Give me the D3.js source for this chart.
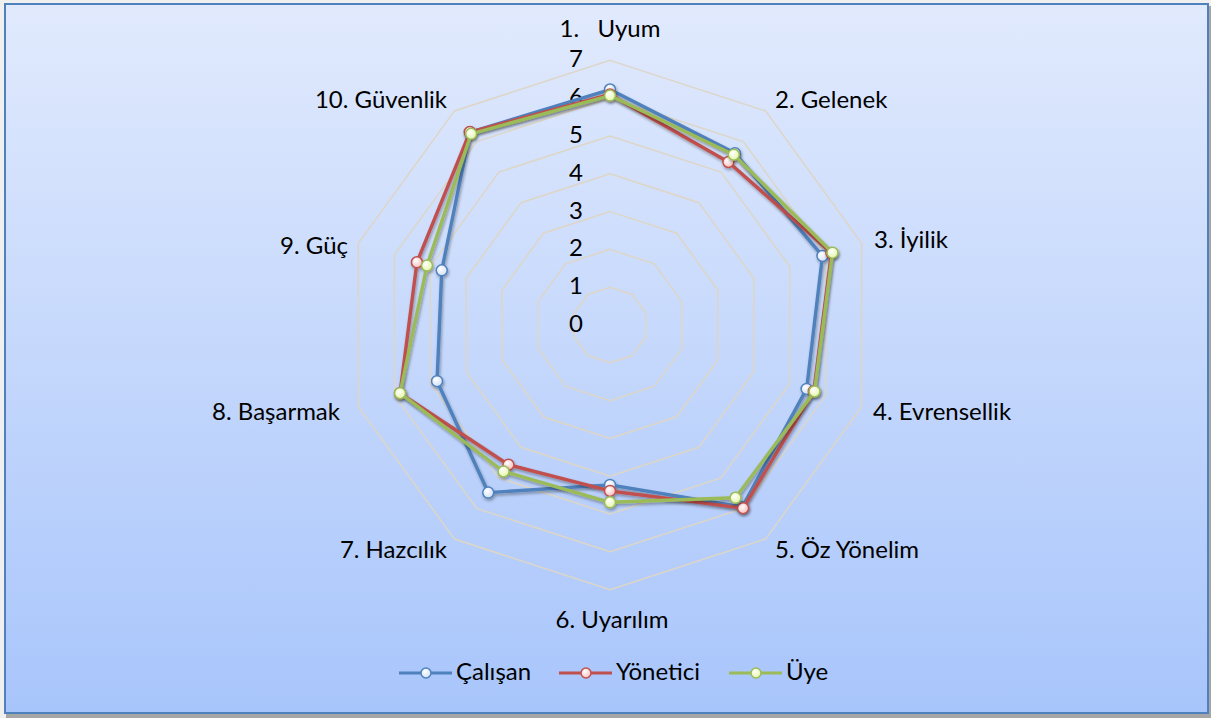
<!DOCTYPE html>
<html>
<head>
<meta charset="utf-8">
<script src="https://cdn.jsdelivr.net/npm/d3@7"></script>
<style>
  body { margin: 0; background: #f0f0f0; }
  svg { display: block; }
  text { font-family: Lato, "Open Sans", sans-serif; fill: #000; }
</style>
</head>
<body>
<svg width="1211" height="718"></svg>
<script>
const axes = ["1.   Uyum", "2. Gelenek", "3. İyilik", "4. Evrensellik", "5. Öz Yönelim",
              "6. Uyarılım", "7. Hazcılık", "8. Başarmak", "9. Güç", "10. Güvenlik"];
const seriesNames = ["Çalışan", "Yönetici", "Üye"];
const calisan  = [6.23, 5.62, 5.91, 5.47, 5.95, 4.23, 5.48, 4.81, 4.68, 6.30];
const yonetici = [6.10, 5.33, 6.16, 5.67, 5.99, 4.39, 4.57, 5.84, 5.37, 6.31];
const uye      = [6.07, 5.57, 6.19, 5.69, 5.65, 4.69, 4.79, 5.84, 5.09, 6.25];
const ticks = [0, 1, 2, 3, 4, 5, 6, 7];

const colors = ["#4f81bd", "#c0504d", "#9bbb59"];
const markerFill = ["#d3e1f5", "#f6c0be", "#e4f6a6"];
const fontSize = 24;

const svg = d3.select("svg");
const cx = 610, cy = 325;
const r = d3.scaleLinear().domain([0, 7]).range([0, 264.6]);
const angle = d3.scaleLinear().domain([0, axes.length]).range([0, 2 * Math.PI]);
const pt = (i, v) => [cx + r(v) * Math.sin(angle(i)), cy - r(v) * Math.cos(angle(i))];

const defs = svg.append("defs");
const bg = defs.append("linearGradient").attr("id", "bg").attr("x1", 0).attr("y1", 0).attr("x2", 0).attr("y2", 1);
bg.append("stop").attr("offset", "0%").attr("stop-color", "#e1eafd");
bg.append("stop").attr("offset", "100%").attr("stop-color", "#a8c5fb");

const sh = defs.append("filter").attr("id", "shadow").attr("x", "-10%").attr("y", "-10%").attr("width", "120%").attr("height", "120%");
sh.append("feDropShadow").attr("dx", 1).attr("dy", 2).attr("stdDeviation", 1.6)
  .attr("flood-color", "#000").attr("flood-opacity", 0.35);

colors.forEach((c, k) => {
  const g = defs.append("radialGradient").attr("id", "mk" + k).attr("cx", "40%").attr("cy", "35%").attr("r", "65%");
  g.append("stop").attr("offset", "0%").attr("stop-color", "#ffffff");
  g.append("stop").attr("offset", "100%").attr("stop-color", markerFill[k]);
});

// shadow strip + frame
svg.append("rect").attr("x", 6).attr("y", 6).attr("width", 1205).attr("height", 712).attr("fill", "#a6a6a6");
svg.append("rect").attr("x", 5).attr("y", 4).attr("width", 1203).attr("height", 709)
  .attr("fill", "url(#bg)").attr("stroke", "#4f81bd").attr("stroke-width", 2);

// grid rings
const ring = d3.line();
svg.append("g").selectAll("path").data(ticks).join("path")
  .attr("d", t => ring(axes.map((a, i) => pt(i, t))) + "Z")
  .attr("fill", "none").attr("stroke", "#ddd6c6").attr("stroke-width", 1.5);

// tick labels
svg.append("g").selectAll("text").data(ticks).join("text")
  .attr("x", 583).attr("y", t => cy - r(t) + 1)
  .attr("text-anchor", "end").attr("dominant-baseline", "middle")
  .attr("font-size", fontSize).text(t => t);

// axis labels
const labelPos = [
  {x: 610, y: 31, a: "middle"}, {x: 775, y: 102, a: "start"}, {x: 874, y: 242, a: "start"},
  {x: 873, y: 414, a: "start"}, {x: 775, y: 552, a: "start"}, {x: 612, y: 622, a: "middle"},
  {x: 447, y: 552, a: "end"}, {x: 340, y: 414, a: "end"}, {x: 348, y: 248, a: "end"},
  {x: 447, y: 102, a: "end"}
];
svg.append("g").selectAll("text").data(axes).join("text")
  .attr("x", (d, i) => labelPos[i].x).attr("y", (d, i) => labelPos[i].y)
  .attr("text-anchor", (d, i) => labelPos[i].a).attr("dominant-baseline", "middle")
  .attr("font-size", fontSize).style("white-space", "pre").text(d => d);

// series
const data = [calisan, yonetici, uye];
const lineGen = d3.line();
data.forEach((vals, k) => {
  const g = svg.append("g").attr("filter", "url(#shadow)");
  const pts = vals.map((v, i) => pt(i, v));
  g.append("path").attr("d", lineGen(pts) + "Z")
    .attr("fill", "none").attr("stroke", colors[k]).attr("stroke-width", 3.4).attr("stroke-linejoin", "round");
  g.selectAll("circle").data(pts).join("circle")
    .attr("cx", d => d[0]).attr("cy", d => d[1]).attr("r", 5.5)
    .attr("fill", `url(#mk${k})`).attr("stroke", colors[k]).attr("stroke-width", 1.5);
});

// legend
const legX = [399, 559, 729];
const lg = svg.append("g");
seriesNames.forEach((n, k) => {
  const x = legX[k], y = 673;
  lg.append("line").attr("x1", x).attr("x2", x + 53).attr("y1", y).attr("y2", y)
    .attr("stroke", colors[k]).attr("stroke-width", 3);
  lg.append("circle").attr("cx", x + 27).attr("cy", y).attr("r", 5)
    .attr("fill", `url(#mk${k})`).attr("stroke", colors[k]).attr("stroke-width", 1.5);
  lg.append("text").attr("x", x + 57).attr("y", y + 1).attr("dominant-baseline", "middle")
    .attr("font-size", fontSize).text(n);
});
</script>
</body>
</html>
